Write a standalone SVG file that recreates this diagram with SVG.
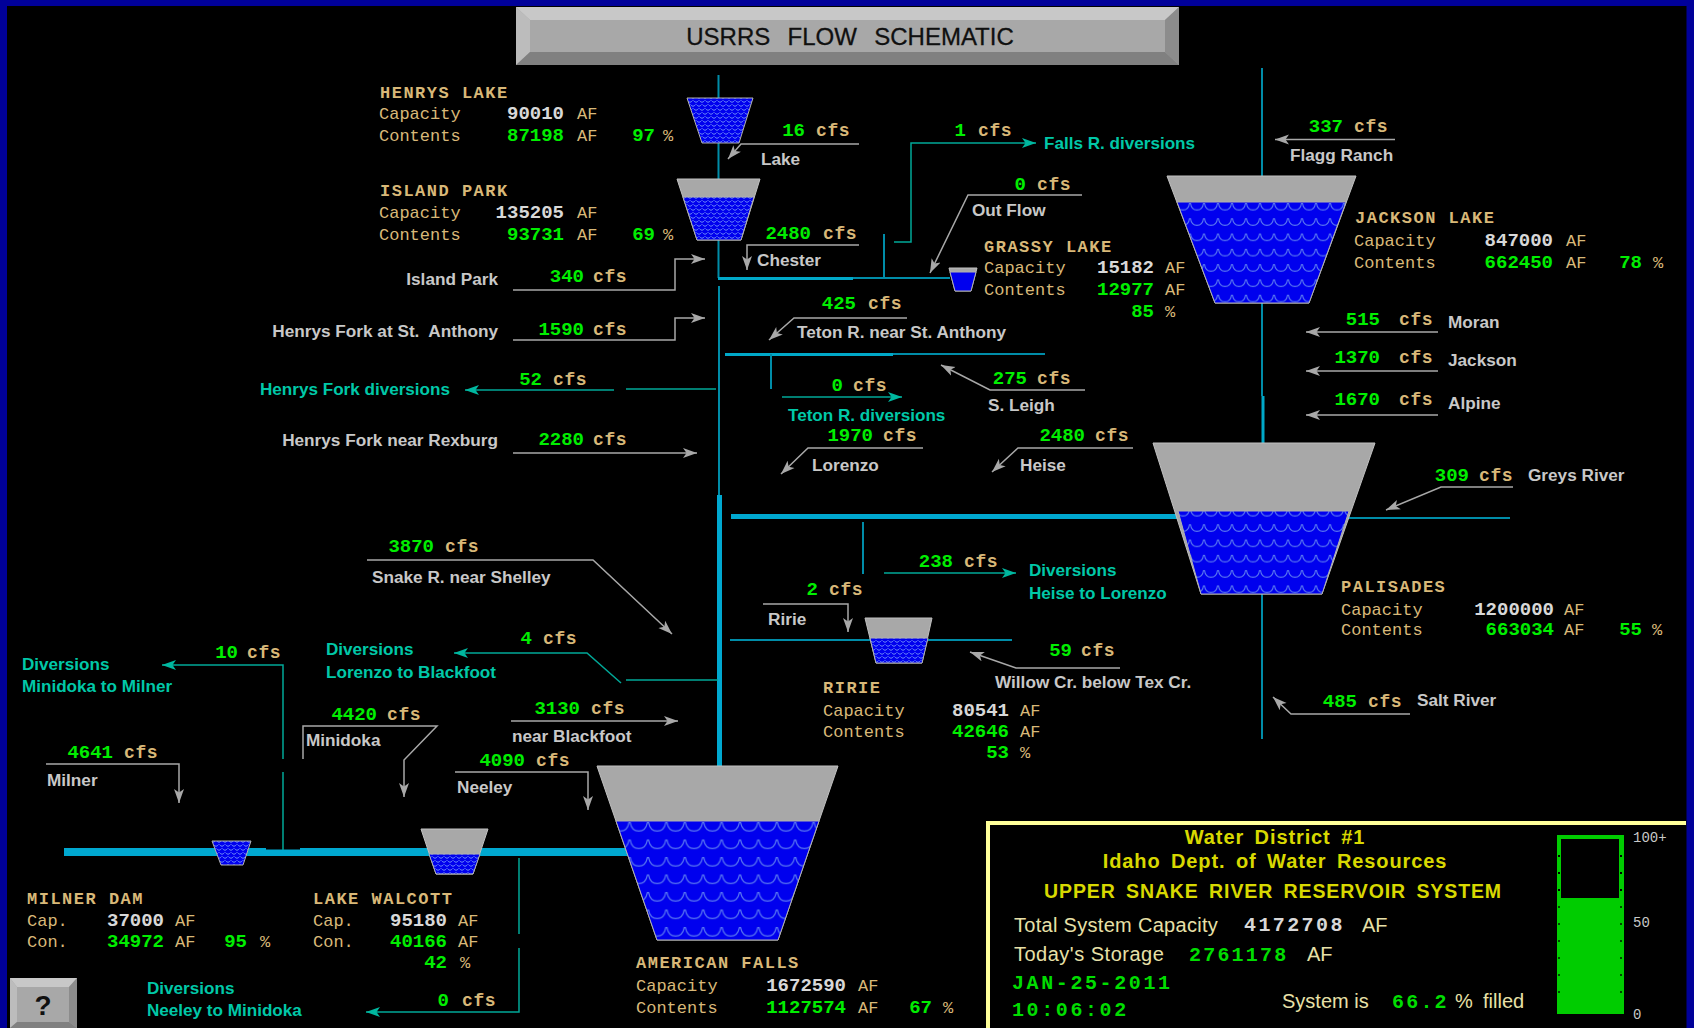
<svg xmlns="http://www.w3.org/2000/svg" width="1694" height="1028" viewBox="0 0 1694 1028">
<style>
text{white-space:pre}
.n{font:bold 19px "Liberation Mono",monospace;fill:#00ee00;text-anchor:end}
.w{font:bold 19px "Liberation Mono",monospace;fill:#d8d8d8;text-anchor:end}
.f{font:bold 18px "Liberation Mono",monospace;fill:#d8b878;letter-spacing:.6px}
.t{font:17px "Liberation Mono",monospace;fill:#d8b878}
.h{font:bold 17px "Liberation Mono",monospace;fill:#d8b878;letter-spacing:1.5px}
.g{font:bold 17.2px "Liberation Sans",Arial,sans-serif;fill:#c8c8c8}
.ge{font:bold 17.2px "Liberation Sans",Arial,sans-serif;fill:#c8c8c8;text-anchor:end}
.c{font:bold 17.1px "Liberation Sans",Arial,sans-serif;fill:#00c8a8}
.y{font:bold 20px "Liberation Sans",Arial,sans-serif;fill:#d8d800;text-anchor:middle;word-spacing:4px;letter-spacing:.9px}
.p{font:20px "Liberation Sans",Arial,sans-serif;fill:#e8e0a8}
.b{font:bold 20px "Liberation Mono",monospace;fill:#00dd00;letter-spacing:2.2px}
.s{font:14px "Liberation Mono",monospace;fill:#c8c8c8}
.gl{fill:none;stroke:#a8a8a8;stroke-width:1.5}
.tl{fill:none;stroke:#00a898;stroke-width:1.5}
.r1{fill:none;stroke:#008ca8;stroke-width:2}
.r2{fill:none;stroke:#00a8c8;stroke-width:3}
.r3{fill:none;stroke:#00a8d0;stroke-width:5}
.ga{marker-end:url(#ag)}
.ta{marker-end:url(#at)}
.e{fill:#a8a8a8;stroke:#c0c0c0;stroke-width:1}
.wl{fill:url(#wL);stroke:#b0b0b0;stroke-width:1}
.wm{fill:url(#wM);stroke:#b0b0b0;stroke-width:1}
.ws{fill:url(#wS);stroke:#b0b0b0;stroke-width:1}
</style>
<defs>
<marker id="ag" markerUnits="userSpaceOnUse" markerWidth="15" markerHeight="11" refX="14" refY="5.5" orient="auto"><path d="M14,5.500L0,.5L3.500,5.500L0,10.500Z" fill="#a8a8a8"/></marker>
<marker id="at" markerUnits="userSpaceOnUse" markerWidth="15" markerHeight="11" refX="14" refY="5.5" orient="auto"><path d="M14,5.500L0,.5L3.500,5.500L0,10.500Z" fill="#00b8a0"/></marker>
<pattern id="wL" patternUnits="userSpaceOnUse" width="18.400" height="17.500" x="4" y="821"><rect width="18.400" height="17.500" fill="#0000ee"/><path d="M.5,1C1.500,7 4,10 9.200,10C14.400,10 16.900,7 17.900,1" fill="none" stroke="#5a78f0" stroke-width="1.200"/></pattern>
<pattern id="wM" patternUnits="userSpaceOnUse" width="14" height="15.300" x="0" y="202"><rect width="14" height="15.300" fill="#0000ee"/><path d="M.5,1C1,5.500 3,8 7,8C11,8 13,5.500 13.500,1" fill="none" stroke="#5a78f0" stroke-width="1.100"/></pattern>
<pattern id="wS" patternUnits="userSpaceOnUse" width="6" height="8"><rect width="6" height="8" fill="#0000ee"/><path d="M.5,.5Q3,4 5.500,.5M-2.500,4.500Q0,8 2.500,4.500M3.500,4.500Q6,8 8.500,4.500" fill="none" stroke="#6a88f8" stroke-width="1"/></pattern>
</defs>

<rect width="1694" height="1028" fill="#000"/>
<path d="M0,0H1694V1028H1686.500V6H7V1028H0Z" fill="#000099"/>

<g id="title">
<rect x="516" y="7" width="663" height="58" fill="#a8a8a8"/>
<path d="M516,7H1179L1165,20H530Z" fill="#c8c8c8"/>
<path d="M516,7L530,20V52L516,65Z" fill="#bcbcbc"/>
<path d="M1179,7L1165,20V52L1179,65Z" fill="#8c8c8c"/>
<path d="M516,65L530,52H1165L1179,65Z" fill="#808080"/>
<text x="850" y="45" text-anchor="middle" style="font:24px 'Liberation Sans',Arial,sans-serif;fill:#101010;word-spacing:2px;stroke:#101010;stroke-width:.3px">USRRS  FLOW  SCHEMATIC</text>
</g>

<g id="connectors">
<path class="r1" d="M718.500,75V278M719,286V495"/>
<path class="r3" d="M719.500,495V767"/>
<path class="r2" d="M718,278.500H853"/>
<path class="r1" d="M853,278H950M884,234V278"/>
<path class="r2" d="M725,354.500H893"/>
<path class="r1" d="M893,354H1045M771,354V389"/>
<path class="r1" d="M1262,68V176M1262,303V396M1262,594V739M1348,518H1510M863,522V574M730,640H871M927,640H1012"/>
<path class="r2" d="M1263,396V443"/>
<path class="r3" d="M731,516.500H1180"/>
<path d="M64,848H266V849.500H300V848H628V856H64Z" fill="#00a8d0"/>
<path class="tl ta" d="M894,242H911V143H1036"/>
<path class="tl ta" d="M614,390H465"/>
<path class="tl" d="M626,389H716M626,680H718"/>
<path class="tl ta" d="M782,397H902"/>
<path class="tl ta" d="M884,573H1016"/>
<path class="tl ta" d="M621,683L587,653H454"/>
<path class="tl ta" d="M283,759V665H162"/>
<path class="tl" d="M283,772V850"/>
<path class="tl" d="M519,858V934"/>
<path class="tl ta" d="M519,948V1012H366"/>
<path class="gl ga" d="M513,290H675V259H705"/>
<path class="gl ga" d="M513,340H675V318H705"/>
<path class="gl ga" d="M513,453H697"/>
<path class="gl ga" d="M859,144H741L728,159"/>
<path class="gl ga" d="M859,245H747V270"/>
<path class="gl ga" d="M1082,195H968L930,273"/>
<path class="gl ga" d="M1395,139.500H1275"/>
<path class="gl ga" d="M1438,332H1306"/>
<path class="gl ga" d="M1438,371H1306"/>
<path class="gl ga" d="M1438,415H1306"/>
<path class="gl ga" d="M1513,487H1441L1386,510"/>
<path class="gl ga" d="M1410,714H1291L1273,697"/>
<path class="gl ga" d="M907,318H794L769,340"/>
<path class="gl ga" d="M1085,390H990L941,365"/>
<path class="gl ga" d="M923,448H808L781,474"/>
<path class="gl ga" d="M1133,448H1018L992,472"/>
<path class="gl ga" d="M763,604H848V632"/>
<path class="gl ga" d="M1120,668H1016L970,652"/>
<path class="gl ga" d="M367,560H593L672,634"/>
<path class="gl ga" d="M303,759V726H437L404,760V797"/>
<path class="gl ga" d="M46,764H179V803"/>
<path class="gl ga" d="M511,721H678"/>
<path class="gl ga" d="M455,772H588V810"/>
</g>

<g id="henrys-lake">
<polygon class="ws" points="687,98 753,98 739,143 702,143"/>
<text class="h" x="380" y="98">HENRYS LAKE</text>
<text class="t" x="379" y="119">Capacity</text><text class="w" x="564" y="119">90010</text><text class="t" x="577" y="119">AF</text>
<text class="t" x="379" y="141">Contents</text><text class="n" x="564" y="141">87198</text><text class="t" x="577" y="141">AF</text><text class="n" x="655" y="141">97</text><text class="t" x="663" y="141">%</text>
</g>
<g id="island-park">
<polygon class="e" points="677,179 760,179 741,240 697,240"/>
<polygon class="ws" points="683,197 754,197 741,240 697,240"/>
<text class="h" x="380" y="196">ISLAND PARK</text>
<text class="t" x="379" y="218">Capacity</text><text class="w" x="564" y="218">135205</text><text class="t" x="577" y="218">AF</text>
<text class="t" x="379" y="240">Contents</text><text class="n" x="564" y="240">93731</text><text class="t" x="577" y="240">AF</text><text class="n" x="655" y="240">69</text><text class="t" x="663" y="240">%</text>
</g>
<g id="grassy-lake">
<polygon class="e" points="949,268 977,268 971,291 955,291"/>
<polygon points="950,272 976,272 971,291 955,291" fill="#0000ee" stroke="#b0b0b0"/>
<text class="h" x="984" y="252">GRASSY LAKE</text>
<text class="t" x="984" y="273">Capacity</text><text class="w" x="1154" y="273">15182</text><text class="t" x="1165" y="273">AF</text>
<text class="t" x="984" y="295">Contents</text><text class="n" x="1154" y="295">12977</text><text class="t" x="1165" y="295">AF</text>
<text class="n" x="1154" y="317">85</text><text class="t" x="1165" y="317">%</text>
</g>
<g id="jackson-lake">
<polygon class="e" points="1167,176 1356,176 1309,303 1215,303"/>
<polygon class="wm" points="1177,202 1346,202 1309,303 1215,303"/>
<text class="h" x="1355" y="223">JACKSON LAKE</text>
<text class="t" x="1354" y="246">Capacity</text><text class="w" x="1553" y="246">847000</text><text class="t" x="1566" y="246">AF</text>
<text class="t" x="1354" y="268">Contents</text><text class="n" x="1553" y="268">662450</text><text class="t" x="1566" y="268">AF</text><text class="n" x="1642" y="268">78</text><text class="t" x="1653" y="268">%</text>
</g>
<g id="palisades">
<polygon class="e" points="1153,443 1375,443 1322,594 1201,594"/>
<polygon class="wm" points="1178,511 1349,511 1322,594 1201,594"/>
<text class="h" x="1341" y="592">PALISADES</text>
<text class="t" x="1341" y="615">Capacity</text><text class="w" x="1554" y="615">1200000</text><text class="t" x="1564" y="615">AF</text>
<text class="t" x="1341" y="635">Contents</text><text class="n" x="1554" y="635">663034</text><text class="t" x="1564" y="635">AF</text><text class="n" x="1642" y="635">55</text><text class="t" x="1652" y="635">%</text>
</g>
<g id="ririe">
<polygon class="e" points="865,618 932,618 922,663 876,663"/>
<polygon class="ws" points="870,638 928,638 922,663 876,663"/>
<text class="h" x="823" y="693">RIRIE</text>
<text class="t" x="823" y="716">Capacity</text><text class="w" x="1009" y="716">80541</text><text class="t" x="1020" y="716">AF</text>
<text class="t" x="823" y="737">Contents</text><text class="n" x="1009" y="737">42646</text><text class="t" x="1020" y="737">AF</text>
<text class="n" x="1009" y="758">53</text><text class="t" x="1020" y="758">%</text>
</g>
<g id="american-falls">
<polygon class="e" points="597,766 838,766 778,940 657,940"/>
<polygon class="wl" points="616,821 819,821 778,940 657,940"/>
<text class="h" x="636" y="968">AMERICAN FALLS</text>
<text class="t" x="636" y="991">Capacity</text><text class="w" x="846" y="991">1672590</text><text class="t" x="858" y="991">AF</text>
<text class="t" x="636" y="1013">Contents</text><text class="n" x="846" y="1013">1127574</text><text class="t" x="858" y="1013">AF</text><text class="n" x="932" y="1013">67</text><text class="t" x="943" y="1013">%</text>
</g>
<g id="lake-walcott">
<polygon class="e" points="421,829 488,829 473,874 436,874"/>
<polygon class="ws" points="429,854 480,854 473,874 436,874"/>
<text class="h" x="313" y="904">LAKE WALCOTT</text>
<text class="t" x="313" y="926">Cap.</text><text class="w" x="447" y="926">95180</text><text class="t" x="458" y="926">AF</text>
<text class="t" x="313" y="947">Con.</text><text class="n" x="447" y="947">40166</text><text class="t" x="458" y="947">AF</text>
<text class="n" x="447" y="968">42</text><text class="t" x="460" y="968">%</text>
</g>
<g id="milner-dam">
<polygon class="ws" points="212,841 251,841 243,865 221,865"/>
<text class="h" x="27" y="904">MILNER DAM</text>
<text class="t" x="27" y="926">Cap.</text><text class="w" x="164" y="926">37000</text><text class="t" x="175" y="926">AF</text>
<text class="t" x="27" y="947">Con.</text><text class="n" x="164" y="947">34972</text><text class="t" x="175" y="947">AF</text><text class="n" x="247" y="947">95</text><text class="t" x="260" y="947">%</text>
</g>

<g id="gauges">
<g id="g-lake"><text class="n" x="805" y="136">16</text><text class="f" x="816" y="136">cfs</text><text class="g" x="761" y="165">Lake</text></g>
<g id="g-falls"><text class="n" x="966" y="136">1</text><text class="f" x="978" y="136">cfs</text><text class="c" x="1044" y="149">Falls R. diversions</text></g>
<g id="g-outflow"><text class="n" x="1026" y="190">0</text><text class="f" x="1037" y="190">cfs</text><text class="g" x="972" y="216">Out Flow</text></g>
<g id="g-chester"><text class="n" x="811" y="239">2480</text><text class="f" x="823" y="239">cfs</text><text class="g" x="757" y="266">Chester</text></g>
<g id="g-ip"><text class="ge" x="498" y="285">Island Park</text><text class="n" x="584" y="282">340</text><text class="f" x="593" y="282">cfs</text></g>
<g id="g-hfsa"><text class="ge" x="498" y="337">Henrys Fork at St.  Anthony</text><text class="n" x="584" y="335">1590</text><text class="f" x="593" y="335">cfs</text></g>
<g id="g-hfd"><text class="c" x="260" y="395">Henrys Fork diversions</text><text class="n" x="542" y="385">52</text><text class="f" x="553" y="385">cfs</text></g>
<g id="g-hfr"><text class="ge" x="498" y="446">Henrys Fork near Rexburg</text><text class="n" x="584" y="445">2280</text><text class="f" x="593" y="445">cfs</text></g>
<g id="g-teton"><text class="n" x="856" y="309">425</text><text class="f" x="868" y="309">cfs</text><text class="g" x="797" y="338">Teton R. near St. Anthony</text></g>
<g id="g-tetond"><text class="n" x="843" y="391">0</text><text class="f" x="853" y="391">cfs</text><text class="c" x="788" y="421">Teton R. diversions</text></g>
<g id="g-sleigh"><text class="n" x="1027" y="384">275</text><text class="f" x="1037" y="384">cfs</text><text class="g" x="988" y="411">S. Leigh</text></g>
<g id="g-lorenzo"><text class="n" x="873" y="441">1970</text><text class="f" x="883" y="441">cfs</text><text class="g" x="812" y="471">Lorenzo</text></g>
<g id="g-heise"><text class="n" x="1085" y="441">2480</text><text class="f" x="1095" y="441">cfs</text><text class="g" x="1020" y="471">Heise</text></g>
<g id="g-flagg"><text class="n" x="1343" y="132">337</text><text class="f" x="1354" y="132">cfs</text><text class="g" x="1290" y="161">Flagg Ranch</text></g>
<g id="g-moran"><text class="n" x="1380" y="325">515</text><text class="f" x="1399" y="325">cfs</text><text class="g" x="1448" y="328">Moran</text></g>
<g id="g-jackson"><text class="n" x="1380" y="363">1370</text><text class="f" x="1399" y="363">cfs</text><text class="g" x="1448" y="366">Jackson</text></g>
<g id="g-alpine"><text class="n" x="1380" y="405">1670</text><text class="f" x="1399" y="405">cfs</text><text class="g" x="1448" y="409">Alpine</text></g>
<g id="g-greys"><text class="n" x="1469" y="481">309</text><text class="f" x="1479" y="481">cfs</text><text class="g" x="1528" y="481">Greys River</text></g>
<g id="g-salt"><text class="n" x="1357" y="707">485</text><text class="f" x="1368" y="707">cfs</text><text class="g" x="1417" y="706">Salt River</text></g>
<g id="g-hl"><text class="n" x="953" y="567">238</text><text class="f" x="964" y="567">cfs</text><text class="c" x="1029" y="576">Diversions</text><text class="c" x="1029" y="599">Heise to Lorenzo</text></g>
<g id="g-ririe"><text class="n" x="818" y="595">2</text><text class="f" x="829" y="595">cfs</text><text class="g" x="768" y="625">Ririe</text></g>
<g id="g-willow"><text class="n" x="1072" y="656">59</text><text class="f" x="1081" y="656">cfs</text><text class="g" x="995" y="688">Willow Cr. below Tex Cr.</text></g>
<g id="g-shelley"><text class="n" x="434" y="552">3870</text><text class="f" x="445" y="552">cfs</text><text class="g" x="372" y="583">Snake R. near Shelley</text></g>
<g id="g-lb"><text class="n" x="532" y="644">4</text><text class="f" x="543" y="644">cfs</text><text class="c" x="326" y="655">Diversions</text><text class="c" x="326" y="678">Lorenzo to Blackfoot</text></g>
<g id="g-mm"><text class="n" x="238" y="658">10</text><text class="f" x="247" y="658">cfs</text><text class="c" x="22" y="670">Diversions</text><text class="c" x="22" y="692">Minidoka to Milner</text></g>
<g id="g-minidoka"><text class="n" x="377" y="720">4420</text><text class="f" x="387" y="720">cfs</text><text class="g" x="306" y="746">Minidoka</text></g>
<g id="g-milner"><text class="n" x="113" y="758">4641</text><text class="f" x="124" y="758">cfs</text><text class="g" x="47" y="786">Milner</text></g>
<g id="g-blackfoot"><text class="n" x="580" y="714">3130</text><text class="f" x="591" y="714">cfs</text><text class="g" x="512" y="742">near Blackfoot</text></g>
<g id="g-neeley"><text class="n" x="525" y="766">4090</text><text class="f" x="536" y="766">cfs</text><text class="g" x="457" y="793">Neeley</text></g>
<g id="g-nm"><text class="n" x="449" y="1006">0</text><text class="f" x="462" y="1006">cfs</text><text class="c" x="147" y="994">Diversions</text><text class="c" x="147" y="1016">Neeley to Minidoka</text></g>
</g>

<g id="help">
<rect x="10" y="978" width="67" height="50" fill="#a8a8a8"/>
<path d="M10,978H77L69,987H17Z" fill="#c8c8c8"/>
<path d="M10,978L17,987V1022L10,1028Z" fill="#bcbcbc"/>
<path d="M77,978L69,987V1022L77,1028Z" fill="#8c8c8c"/>
<path d="M10,1028L17,1022H69L77,1028Z" fill="#808080"/>
<text x="43" y="1015" text-anchor="middle" style="font:bold 28px 'Liberation Sans',Arial,sans-serif;fill:#101010">?</text>
</g>

<g id="panel">
<path d="M986,1028V821H1686V825H990V1028Z" fill="#ffff99"/>
<text class="y" x="1275" y="844">Water District #1</text>
<text class="y" x="1275" y="868">Idaho Dept. of Water Resources</text>
<text class="y" x="1273" y="898" style="font-size:19.5px">UPPER SNAKE RIVER RESERVOIR SYSTEM</text>
<text class="p" x="1014" y="932" style="letter-spacing:.3px">Total System Capacity</text>
<text class="b" x="1244" y="931" style="fill:#d8d8d8;letter-spacing:2.4px">4172708</text>
<text class="p" x="1362" y="932">AF</text>
<text class="p" x="1014" y="961" style="letter-spacing:.5px">Today's Storage</text>
<text class="b" x="1189" y="961">2761178</text>
<text class="p" x="1307" y="961">AF</text>
<text class="b" x="1012" y="989" style="letter-spacing:2.6px">JAN-25-2011</text>
<text class="b" x="1012" y="1016" style="letter-spacing:2.6px">10:06:02</text>
<text class="p" x="1282" y="1008">System is</text>
<text class="b" x="1392" y="1008">66.2</text>
<text class="p" x="1455" y="1008">%</text>
<text class="p" x="1483" y="1008">filled</text>
<path d="M1557,835H1624V1014H1557ZM1561,839V898H1619V839Z" fill="#00cc00" fill-rule="evenodd"/>
<path d="M1559,856v.01M1559,873v.01M1559,890v.01M1621,856v.01M1621,873v.01M1621,890v.01" stroke="#000" stroke-width="2" stroke-linecap="square"/>
<path d="M1559,907v.01M1559,924v.01M1559,941v.01M1559,958v.01M1559,975v.01M1559,992v.01M1621,907v.01M1621,924v.01M1621,941v.01M1621,958v.01M1621,975v.01M1621,992v.01" stroke="#004400" stroke-width="2" stroke-linecap="square"/>
<text class="s" x="1633" y="842">100+</text>
<text class="s" x="1633" y="927">50</text>
<text class="s" x="1633" y="1019">0</text>
</g>
</svg>
